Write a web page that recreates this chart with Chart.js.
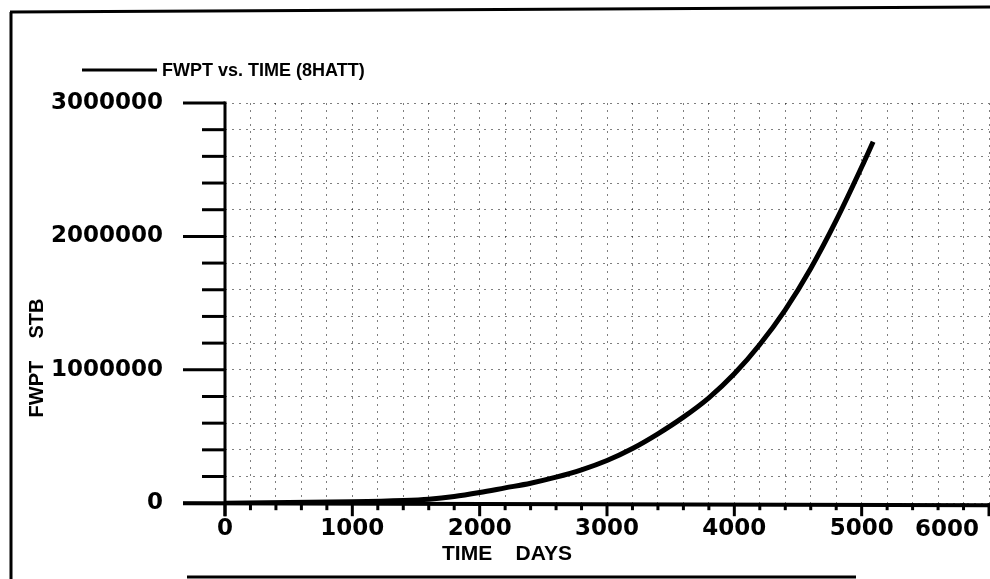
<!DOCTYPE html>
<html>
<head>
<meta charset="utf-8">
<script src="https://cdn.jsdelivr.net/npm/chart.js@4.4.1/dist/chart.umd.min.js"></script>
<style>
  html, body { margin: 0; padding: 0; background: #fff; overflow: hidden; }
  #wrap { width: 990px; height: 579px; }
</style>
</head>
<body>
<div id="wrap"><canvas id="graficaFwpt" width="990" height="579"></canvas></div>
<script>
// FWPT vs TIME
const timeDays = [0, 500, 1000, 1400, 1600, 1800, 2000, 2200, 2400, 2600, 2800, 3000, 3200, 3400, 3600, 3800, 4000, 4200, 4400, 4600, 4800, 5000, 5090];
const fwptStb  = [0, 5000, 10000, 20000, 30000, 50000, 80000, 115000, 150000, 195000, 250000, 320000, 410000, 520000, 645000, 790000, 970000, 1190000, 1450000, 1760000, 2120000, 2520000, 2710000];

const xTickLabels = [0, 1000, 2000, 3000, 4000, 5000, 6000];
const yTickLabels = [0, 1000000, 2000000, 3000000];

const seriesName = 'FWPT vs. TIME (8HATT)';
const xTitle = 'TIME    DAYS';
const yTitle = 'FWPT    STB';

const digitFont = 'bold 23px "DejaVu Sans"';

function line(ctx, x1, y1, x2, y2) {
  ctx.beginPath();
  ctx.moveTo(x1, y1);
  ctx.lineTo(x2, y2);
  ctx.stroke();
}

// frame, tick marks, axis lines, titles and legend in the plotter style
const paperPlugin = {
  id: 'paper',
  beforeDraw(chart) {
    const ctx = chart.ctx;
    ctx.save();
    ctx.fillStyle = '#fff';
    ctx.fillRect(0, 0, chart.width, chart.height);
    ctx.restore();
  },
  afterDraw(chart) {
    const ctx = chart.ctx;
    const xs = chart.scales.x, ys = chart.scales.y;
    const x0 = xs.getPixelForValue(0);
    const y0 = ys.getPixelForValue(0);
    const yTop = ys.getPixelForValue(3000000);

    ctx.save();
    ctx.strokeStyle = '#000';
    ctx.fillStyle = '#000';

    // y tick marks
    ctx.lineWidth = 3;
    ys.ticks.forEach(t => {
      const py = ys.getPixelForValue(t.value);
      const len = yTickLabels.includes(t.value) ? 42 : 23;
      line(ctx, x0 - len, py, x0, py);
    });
    // x tick marks
    xs.ticks.forEach(t => {
      const px = xs.getPixelForValue(t.value);
      const len = xTickLabels.includes(t.value) ? 13 : 7;
      line(ctx, px, y0, px, y0 + len);
    });

    // axes
    ctx.lineWidth = 3;
    line(ctx, x0, yTop - 1.5, x0, y0 + 13);
    ctx.lineWidth = 4;
    line(ctx, x0 - 42, y0, chart.width, y0 + 2);

    // last x label sits inside the frame
    ctx.font = digitFont;
    ctx.textAlign = 'center';
    ctx.textBaseline = 'middle';
    ctx.fillText('6000', xs.getPixelForValue(6000) - 42, 530);

    // axis titles
    ctx.font = 'bold 21px "Liberation Sans"';
    ctx.fillText(xTitle, 507, 554);
    ctx.save();
    ctx.translate(37, 358);
    ctx.rotate(-Math.PI / 2);
    ctx.font = 'bold 20px "Liberation Sans"';
    ctx.fillText(yTitle, 0, 0);
    ctx.restore();

    // legend
    ctx.lineWidth = 3;
    line(ctx, 82, 70, 157, 70);
    ctx.font = 'bold 18px "Liberation Sans"';
    ctx.textAlign = 'left';
    ctx.fillText(seriesName, 162, 71);

    // outer frame
    ctx.lineWidth = 3;
    line(ctx, 11, 12, 11, 579);
    line(ctx, 10, 12, 990, 7);
    line(ctx, 187, 577, 856, 577);
    ctx.restore();
  }
};

const ctx = document.getElementById('graficaFwpt').getContext('2d');

new Chart(ctx, {
  type: 'line',
  data: {
    datasets: [{
      label: seriesName,
      data: timeDays.map((t, i) => ({ x: t, y: fwptStb[i] })),
      borderColor: '#000',
      backgroundColor: '#000',
      borderWidth: 5,
      pointRadius: 0,
      cubicInterpolationMode: 'monotone',
      fill: false
    }]
  },
  options: {
    responsive: false,
    animation: false,
    devicePixelRatio: 1,
    layout: { padding: { top: 103, right: 1, left: 0, bottom: 0 } },
    plugins: {
      legend: { display: false },
      tooltip: { enabled: false }
    },
    scales: {
      x: {
        type: 'linear',
        min: 0,
        max: 6000,
        afterFit(scale) {
          scale.height = 74;
          scale.paddingLeft = 0;
          scale.paddingRight = 0;
        },
        ticks: {
          stepSize: 200,
          autoSkip: false,
          maxRotation: 0,
          padding: 12,
          color: '#000',
          font: { family: 'DejaVu Sans', size: 23, weight: 'bold' },
          callback: v => (xTickLabels.includes(v) && v !== 6000) ? String(v) : ''
        },
        grid: {
          drawTicks: false,
          color: 'rgba(0,0,0,0.5)',
          lineWidth: 1
        },
        border: { display: false, dash: [2, 5] }
      },
      y: {
        min: 0,
        max: 3000000,
        afterFit(scale) { scale.width = 225; },
        ticks: {
          stepSize: 200000,
          autoSkip: false,
          padding: 62,
          color: '#000',
          font: { family: 'DejaVu Sans', size: 23, weight: 'bold' },
          callback: v => yTickLabels.includes(v) ? String(v) : ''
        },
        grid: {
          drawTicks: false,
          color: 'rgba(0,0,0,0.5)',
          lineWidth: 1
        },
        border: { display: false, dash: [2, 5] }
      }
    }
  },
  plugins: [paperPlugin]
});
</script>
</body>
</html>
